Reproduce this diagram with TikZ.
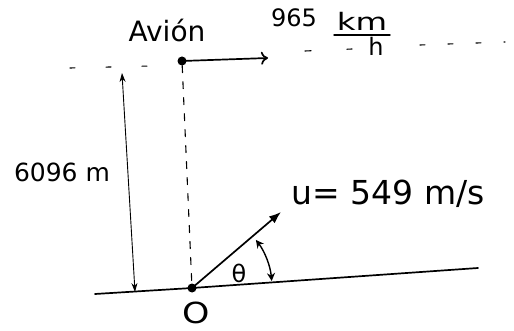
\documentclass[tikz,border=0pt]{standalone}
\usepackage{fontspec}
\setmainfont{DejaVu Sans}
\usetikzlibrary{arrows.meta}
\begin{document}
\begin{tikzpicture}[x=1pt,y=-1pt,line cap=round,
  dot/.style={circle,fill=black,inner sep=0pt,minimum size=9pt},
  mainline/.style={line width=1.7pt},
  guide/.style={line width=1.1pt,dash pattern=on 5pt off 31pt},
  vguide/.style={line width=1.1pt,dash pattern=on 7pt off 9pt},
  lbl/.style={inner sep=0pt}]
\useasboundingbox (0,0) rectangle (514,331);
% points
\node[dot] (A) at (182,61) {};
\node[dot] (O) at (192,288) {};
\coordinate (dl1) at (70,68);
\coordinate (dl2) at (150,66);
\coordinate (dr1) at (305,51);
\coordinate (dr2) at (352,49);
\coordinate (dr3) at (420,45);
\coordinate (dr4) at (505,42);
\coordinate (gl) at (95,294);
\coordinate (gr) at (478,268);
\coordinate (vt) at (281,212);
\coordinate (pv) at (268,58);
\coordinate (ht) at (122,73);
\coordinate (hb) at (135,292);
\coordinate (fb1) at (334,35);
\coordinate (fb2) at (390,35);
% lines
\draw[guide] (dl1) -- (dl2);
\draw[line width=1.1pt,dash pattern=on 6pt off 36pt] (dr1) -- (dr2);
\draw[line width=1.1pt,dash pattern=on 5pt off 23pt] (dr3) -- (dr4);
\draw[vguide] (A) -- (O);
\draw[mainline] (gl) -- (O.center) -- (gr);
\draw[mainline,-{To[length=7pt,width=13pt]}] (A.center) -- (pv);
\draw[mainline,-{Latex[length=12pt,width=9pt]}] (O.center) -- (vt);
\draw[line width=0.9pt,{Stealth[length=9pt,width=6pt]}-{Stealth[length=9pt,width=6pt]}] (ht) -- (hb);
\draw[line width=1.4pt,{Stealth[length=8pt,width=8pt]}-{Stealth[length=8pt,width=8pt]}]
  ([shift={(-5:80)}]O.center) arc[start angle=-5,end angle=-37,radius=80];
\draw[line width=1.4pt] (fb1) -- (fb2);
% labels
\node[lbl,font=\fontsize{28}{32}\selectfont] (avion) at (167,31) {Avión};
\node[lbl,font=\fontsize{24}{28}\selectfont] (vel) at (294,18) {965};
\node[lbl,font=\fontsize{24}{28}\selectfont,xscale=1.35] (km) at (362,21) {km};
\node[lbl,font=\fontsize{24}{28}\selectfont] (hh) at (376,46) {h};
\node[lbl,font=\fontsize{25}{30}\selectfont] (h) at (62,172) {6096 m};
\node[lbl,font=\fontsize{33}{38}\selectfont] (u) at (388,194) {u= 549 m/s};
\node[lbl,font=\fontsize{24}{28}\selectfont] (th) at (239,273) {θ};
\node[lbl,font=\fontsize{29}{33}\selectfont,xscale=1.2] (o) at (196,313) {O};
\end{tikzpicture}
\end{document}
